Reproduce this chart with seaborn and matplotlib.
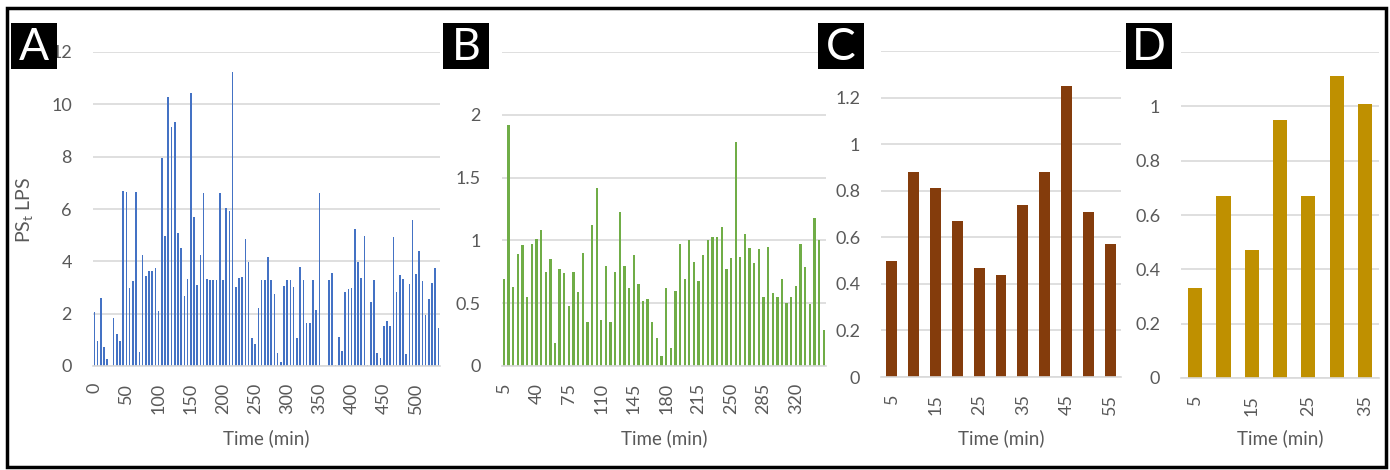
import seaborn as sns
import matplotlib.pyplot as plt
import pandas as pd
import numpy as np
from matplotlib.patches import Rectangle

# Data
times_a = list(range(0, 540, 5))
vals_a = [2.05, 0.96, 2.59, 0.74, 0.25, 0, 1.82, 1.22, 0.97, 6.67,
          6.65, 3.0, 3.26, 6.64, 0.52, 4.25, 3.44, 3.63, 3.63, 3.76,
          2.11, 7.95, 4.97, 10.27, 9.15, 9.31, 5.08, 4.52, 2.68, 3.31,
          10.45, 5.69, 3.08, 4.24, 6.6, 3.34, 3.3, 3.3, 3.3, 6.6,
          3.3, 6.02, 5.94, 11.22, 3.01, 3.35, 3.39, 4.85, 3.99, 1.06,
          0.84, 2.22, 3.29, 3.29, 4.18, 3.29, 2.76, 0.48, 0.17, 3.07,
          3.29, 3.29, 3.01, 1.06, 3.8, 3.29, 1.63, 1.63, 3.29, 2.14,
          6.63, 0, 0, 3.29, 3.57, 0.02, 1.12, 0.57, 2.82, 2.96,
          3.0, 5.23, 3.99, 3.37, 4.97, 0.04, 2.44, 3.29, 0.51, 0.32,
          1.54, 1.72, 1.54, 4.92, 2.83, 3.49, 3.32, 0.46, 3.13, 5.59,
          3.52, 4.39, 3.25, 1.94, 2.55, 3.16, 3.74, 1.44]

times_b = list(range(5, 355, 5))
vals_b = [0.69, 1.92, 0.63, 0.89, 0.96, 0.55, 0.97, 1.01, 1.08, 0.75,
          0.85, 0.18, 0.77, 0.74, 0.48, 0.75, 0.59, 0.9, 0.35, 1.12,
          1.42, 0.37, 0.8, 0.35, 0.75, 1.23, 0.8, 0.62, 0.88, 0.65,
          0.52, 0.53, 0.35, 0.22, 0.08, 0.62, 0.14, 0.6, 0.97, 0.69,
          1.0, 0.83, 0.68, 0.88, 1.0, 1.03, 1.03, 1.11, 0.77, 0.86,
          1.78, 0.87, 1.05, 0.94, 0.82, 0.93, 0.55, 0.95, 0.58, 0.55,
          0.69, 0.5, 0.55, 0.64, 0.97, 0.79, 0.49, 1.18, 1.0, 0.29]

times_c = list(range(5, 60, 5))
vals_c = [0.50, 0.88, 0.81, 0.67, 0.47, 0.44, 0.74, 0.88, 1.25, 0.71, 0.57]

times_d = list(range(5, 40, 5))
vals_d = [0.33, 0.67, 0.47, 0.95, 0.67, 1.11, 1.01]

W, H = 1390, 470
TXT = '#595959'
GRID = '#D9D9D9'

sns.set_style('white')
plt.rcParams['font.family'] = ['Lato', 'DejaVu Sans']

fig = plt.figure(figsize=(W / 100, H / 100), dpi=100)


def add_panel(left, right, top, bottom):
    return fig.add_axes([left / W, 1 - bottom / H, (right - left) / W, (bottom - top) / H])


panels = [
    # letter, times, values, colour, bar width, ylim top, ystep, tick every,
    # top label shown?, box px, axes px
    ('A', times_a, vals_a, '#4472C4', 0.5, 12, 2, 10, True, (11, 23), (92.7, 440, 52, 366)),
    ('B', times_b, vals_b, '#70AD47', 0.5, 2.5, 0.5, 7, False, (443, 23), (501.7, 826, 52, 366)),
    ('C', times_c, vals_c, '#843C0C', 0.5, 1.4, 0.2, 2, False, (818, 23), (881, 1121, 51, 377)),
    ('D', times_d, vals_d, '#BF9000', 0.5, 1.2, 0.2, 2, False, (1126, 23), (1181, 1379, 52, 378)),
]

for letter, times, vals, col, bw, ytop, ystep, every, show_top, box, (l, r, t, b) in panels:
    ax = add_panel(l, r, t, b)
    df = pd.DataFrame({'time': [str(x) for x in times], 'value': vals})
    sns.barplot(data=df, x='time', y='value', color=col, width=bw,
                saturation=1, errorbar=None, linewidth=0, ax=ax)
    ax.set_ylim(0, ytop)
    yt = np.round(np.arange(0, ytop + ystep / 2, ystep), 2)
    ax.set_yticks(yt)
    labels = [f'{v:g}' for v in yt]
    if not show_top:
        labels[-1] = ''  # hidden behind the panel letter in the original
    ax.set_yticklabels(labels)
    pos = list(range(0, len(times), every))
    ax.set_xticks(pos)
    ax.set_xticklabels([str(times[p]) for p in pos], rotation=90)
    ax.set_xlim(-0.5, len(times) - 0.5)
    ax.yaxis.grid(True, color=GRID, lw=1.2)
    ax.set_axisbelow(True)
    for s in ['left', 'right', 'top']:
        ax.spines[s].set_visible(False)
    ax.spines['bottom'].set_color(GRID)
    ax.spines['bottom'].set_linewidth(1.2)
    ax.tick_params(axis='both', length=0, colors=TXT, labelsize=13)
    ax.tick_params(axis='y', pad=15)
    ax.tick_params(axis='x', pad=12)
    ax.set_ylabel('')
    ax.set_xlabel('Time (min)', color=TXT, fontsize=13.5)
    ax.xaxis.set_label_coords(0.5, (b - 438) / (b - t), transform=ax.transAxes)
    ax.xaxis.label.set_va('center')
    if letter == 'A':
        ax.set_ylabel(r'PS$_\mathregular{t}$ LPS', color=TXT, fontsize=14)
        ax.yaxis.set_label_coords((25 - l) / (r - l), (b - 210) / (b - t))
        ax.yaxis.label.set_va('center')

    # panel letter box
    bx, by = box
    fig.patches.append(Rectangle((bx / W, 1 - (by + 46) / H), 46 / W, 46 / H,
                                 transform=fig.transFigure, facecolor='black',
                                 edgecolor='none', zorder=5))
    fig.text((bx + 23) / W, 1 - (by + 24) / H, letter, color='white', fontsize=32,
             ha='center', va='center', zorder=6)

# outer frame
fig.patches.append(Rectangle((7 / W, 1 - 467 / H), 1379 / W, 459 / H,
                             transform=fig.transFigure, facecolor='none',
                             edgecolor='black', linewidth=2.5, zorder=10))

plt.savefig('out.png', dpi=100)
